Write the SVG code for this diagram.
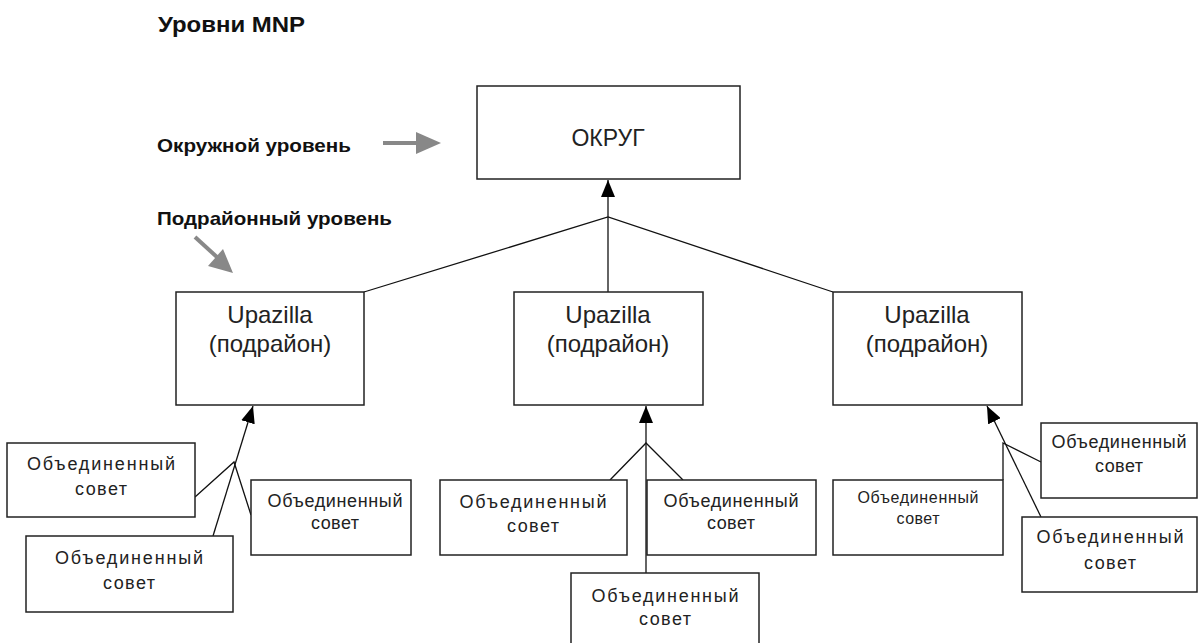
<svg xmlns="http://www.w3.org/2000/svg" width="1199" height="643" viewBox="0 0 1199 643">
<style>
.box{fill:#fff;stroke:#222;stroke-width:1.5}
.t{font-family:"Liberation Sans",Arial,sans-serif;fill:#222;text-anchor:middle}
.big{font-size:24px}
.sm{font-size:18px}
.xs{font-size:16px}
.lbl{font-family:"Liberation Sans",Arial,sans-serif;font-weight:bold;fill:#111}
.con{stroke:#111;stroke-width:1.3;fill:none}
.gray{stroke:#888;stroke-width:4;fill:none}
</style>
<defs>
<marker id="ah" markerUnits="userSpaceOnUse" markerWidth="18" markerHeight="14" refX="17" refY="7" orient="auto">
<path d="M0,0 L17,7 L0,14 z" fill="#000"/>
</marker>
</defs>
<g id="labels">
<text class="lbl" x="158" y="32" font-size="22" textLength="147" lengthAdjust="spacingAndGlyphs">Уровни MNP</text>
<text class="lbl" x="157" y="152" font-size="19" textLength="194" lengthAdjust="spacingAndGlyphs">Окружной уровень</text>
<text class="lbl" x="157" y="225" font-size="19" textLength="235" lengthAdjust="spacingAndGlyphs">Подрайонный уровень</text>
<line class="gray" x1="383" y1="143" x2="418" y2="143"/>
<path d="M416,132 L441,143 L416,154 z" fill="#888"/>
<line class="gray" x1="195" y1="237" x2="218" y2="258"/>
<path d="M208,266 L233,273 L223,249 z" fill="#888"/>
</g>
<g id="connectors">
<line class="con" x1="608" y1="292" x2="608" y2="180" marker-end="url(#ah)"/>
<polyline class="con" points="364,292 608,217 833,292"/>
<line class="con" x1="213" y1="536" x2="253" y2="406" marker-end="url(#ah)"/>
<polyline class="con" points="195,497 234,462 251,515"/>
<line class="con" x1="646" y1="573" x2="646" y2="406" marker-end="url(#ah)"/>
<polyline class="con" points="610,480 646,443 683,480"/>
<line class="con" x1="1041" y1="517" x2="987" y2="406" marker-end="url(#ah)"/>
<polyline class="con" points="1003,480 1003,443 1041,462"/>
</g>
<g id="okrug">
<rect class="box" x="477" y="86" width="263" height="93"/>
<text class="t" x="608" y="146" font-size="23">ОКРУГ</text>
</g>
<g id="upazilla1">
<rect class="box" x="176" y="292" width="188" height="113"/>
<text class="t big" x="270" y="323">Upazilla</text>
<text class="t big" x="270" y="352">(подрайон)</text>
</g>
<g id="upazilla2">
<rect class="box" x="514" y="292" width="189" height="113"/>
<text class="t big" x="608" y="323">Upazilla</text>
<text class="t big" x="608" y="352">(подрайон)</text>
</g>
<g id="upazilla3">
<rect class="box" x="833" y="292" width="189" height="113"/>
<text class="t big" x="927" y="323">Upazilla</text>
<text class="t big" x="927" y="352">(подрайон)</text>
</g>
<g id="sovet-a">
<rect class="box" x="7" y="443" width="188" height="74"/>
<text class="t sm" x="101" y="470" textLength="148" lengthAdjust="spacing">Объединенный</text>
<text class="t sm" x="101" y="495" textLength="52" lengthAdjust="spacing">совет</text>
</g>
<g id="sovet-b">
<rect class="box" x="26" y="536" width="207" height="76"/>
<text class="t sm" x="129" y="564" textLength="148" lengthAdjust="spacing">Объединенный</text>
<text class="t sm" x="129" y="589" textLength="52" lengthAdjust="spacing">совет</text>
</g>
<g id="sovet-c">
<rect class="box" x="251" y="480" width="160" height="75"/>
<text class="t sm" x="335" y="507" textLength="135" lengthAdjust="spacing">Объединенный</text>
<text class="t sm" x="335" y="529" textLength="48" lengthAdjust="spacing">совет</text>
</g>
<g id="sovet-d">
<rect class="box" x="440" y="480" width="187" height="75"/>
<text class="t sm" x="533" y="508" textLength="147" lengthAdjust="spacing">Объединенный</text>
<text class="t sm" x="533" y="532" textLength="52" lengthAdjust="spacing">совет</text>
</g>
<g id="sovet-e">
<rect class="box" x="647" y="480" width="169" height="75"/>
<text class="t sm" x="731" y="507" textLength="135" lengthAdjust="spacing">Объединенный</text>
<text class="t sm" x="731" y="529" textLength="48" lengthAdjust="spacing">совет</text>
</g>
<g id="sovet-f">
<rect class="box" x="571" y="573" width="188" height="76"/>
<text class="t sm" x="665" y="602" textLength="147" lengthAdjust="spacing">Объединенный</text>
<text class="t sm" x="665" y="625" textLength="52" lengthAdjust="spacing">совет</text>
</g>
<g id="sovet-g">
<rect class="box" x="833" y="480" width="170" height="75"/>
<text class="t xs" x="918" y="503" textLength="121" lengthAdjust="spacing">Объединенный</text>
<text class="t xs" x="918" y="524" textLength="43" lengthAdjust="spacing">совет</text>
</g>
<g id="sovet-h">
<rect class="box" x="1041" y="423" width="156" height="75"/>
<text class="t sm" x="1119" y="448" textLength="135" lengthAdjust="spacing">Объединенный</text>
<text class="t sm" x="1119" y="472" textLength="48" lengthAdjust="spacing">совет</text>
</g>
<g id="sovet-i">
<rect class="box" x="1022" y="517" width="175" height="75"/>
<text class="t sm" x="1110" y="543" textLength="147" lengthAdjust="spacing">Объединенный</text>
<text class="t sm" x="1110" y="569" textLength="52" lengthAdjust="spacing">совет</text>
</g>
</svg>
